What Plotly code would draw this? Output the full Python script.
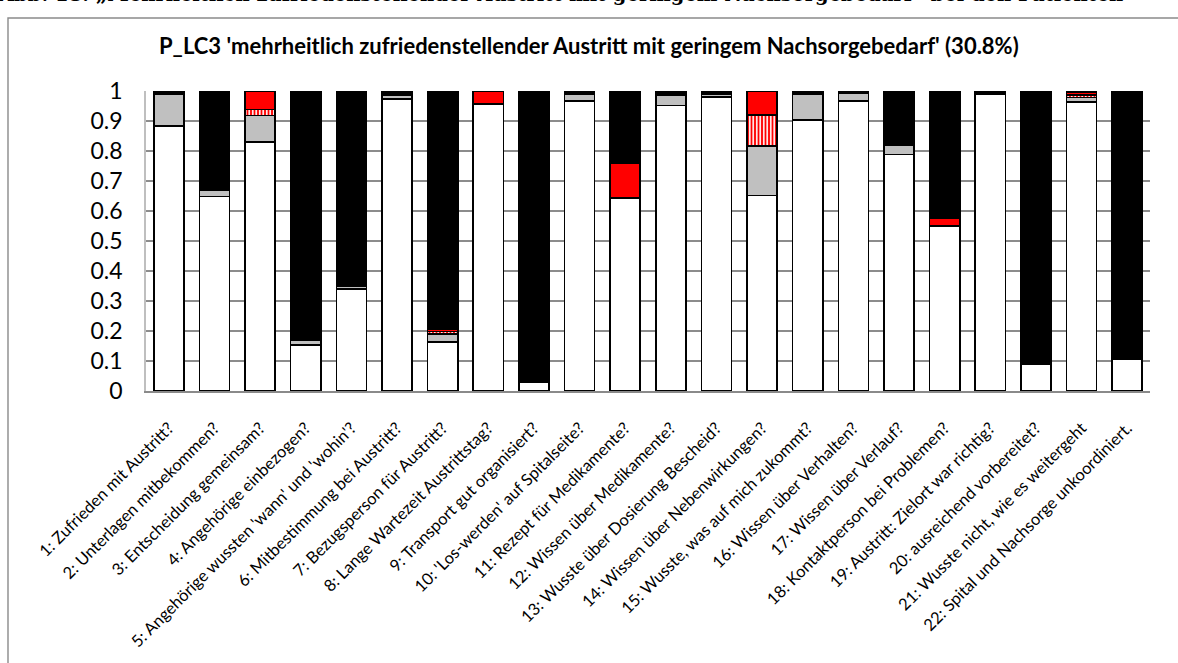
import plotly.graph_objects as go

# Survey items (x axis)
categories = [
    "1: Zufrieden mit Austritt?",
    "2: Unterlagen mitbekommen?",
    "3: Entscheidung gemeinsam?",
    "4: Angehörige einbezogen?",
    "5: Angehörige wussten 'wann' und 'wohin'?",
    "6: Mitbestimmung bei Austritt?",
    "7: Bezugsperson für Austritt?",
    "8: Lange Wartezeit Austrittstag?",
    "9: Transport gut organisiert?",
    "10: 'Los-werden' auf Spitalseite?",
    "11: Rezept für Medikamente?",
    "12: Wissen über Medikamente?",
    "13: Wusste über Dosierung Bescheid?",
    "14: Wissen über Nebenwirkungen?",
    "15: Wusste, was auf mich zukommt?",
    "16: Wissen über Verhalten?",
    "17: Wissen über Verlauf?",
    "18: Kontaktperson bei Problemen?",
    "19: Austritt: Zielort war richtig?",
    "20: ausreichend vorbereitet?",
    "21: Wusste nicht, wie es weitergeht",
    "22: Spital und Nachsorge unkoordiniert.",
]

# Stacked shares per item, bottom to top
share_white = [0.883, 0.648, 0.830, 0.154, 0.341, 0.974, 0.163, 0.956, 0.028, 0.967, 0.644,
               0.952, 0.980, 0.652, 0.904, 0.966, 0.788, 0.550, 0.989, 0.090, 0.963, 0.107]
share_grey = [0.108, 0.021, 0.089, 0.017, 0.008, 0.012, 0.028, 0.0, 0.0, 0.021, 0.0,
              0.033, 0.008, 0.164, 0.084, 0.028, 0.031, 0.0, 0.0, 0.0, 0.015, 0.0]
share_striped = [0.0, 0.0, 0.019, 0.0, 0.0, 0.0, 0.007, 0.0, 0.0, 0.004, 0.0,
                 0.006, 0.0, 0.105, 0.0, 0.0, 0.0, 0.0, 0.0, 0.0, 0.009, 0.0]
share_red = [0.0, 0.0, 0.062, 0.0, 0.0, 0.006, 0.007, 0.044, 0.0, 0.0, 0.114,
             0.004, 0.0, 0.079, 0.0, 0.0, 0.0, 0.027, 0.0, 0.0, 0.010, 0.0]
share_black = [0.009, 0.331, 0.000, 0.829, 0.651, 0.008, 0.795, 0.000, 0.972, 0.008, 0.242,
               0.005, 0.012, 0.000, 0.012, 0.006, 0.181, 0.423, 0.011, 0.910, 0.003, 0.893]

y_ticks = [0, 0.1, 0.2, 0.3, 0.4, 0.5, 0.6, 0.7, 0.8, 0.9, 1]
y_ticktext = ["0", "0.1", "0.2", "0.3", "0.4", "0.5", "0.6", "0.7", "0.8", "0.9", "1"]

title_text = "P_LC3 'mehrheitlich zufriedenstellender Austritt mit geringem Nachsorgebedarf' (30.8%)"
caption_text = "Abb. 18: \u201eMehrheitlich zufriedenstellender Austritt mit geringem Nachsorgebedarf\u201c bei den Patienten"

FONT = "Lato"
outline = dict(color="black", width=1.6)

fig = go.Figure()
fig.add_trace(go.Bar(x=categories, y=share_white, marker=dict(color="white", line=outline)))
fig.add_trace(go.Bar(x=categories, y=share_grey, marker=dict(color="#c0c0c0", line=outline)))
fig.add_trace(go.Bar(x=categories, y=share_striped,
                     marker=dict(color="#ff0000", line=outline,
                                 pattern=dict(shape="|", fgcolor="white", bgcolor="#ff0000",
                                              size=3.5, solidity=0.45, fillmode="replace"))))
fig.add_trace(go.Bar(x=categories, y=share_red, marker=dict(color="#ff0000", line=outline)))
fig.add_trace(go.Bar(x=categories, y=share_black, marker=dict(color="black", line=outline)))

# plot area in pixels: x 146..1150, y 91..391
L, R, T, B = 146, 28, 91, 272
W, H = 1178 - L - R, 663 - T - B

def px_x(px):
    return (px - L) / W

def px_y(py):
    return 1 - (py - T) / H

fig.update_layout(
    width=1178, height=663,
    margin=dict(l=L, r=R, t=T, b=B, autoexpand=False),
    barmode="stack", bargap=0.34,
    showlegend=False,
    paper_bgcolor="white", plot_bgcolor="white",
    font=dict(family=FONT, color="black"),
    shapes=[
        # outer chart frame (open to the right and bottom)
        dict(type="rect", xref="paper", yref="paper",
             x0=px_x(8), x1=px_x(1400), y0=px_y(800), y1=px_y(18),
             line=dict(color="#8a8a8a", width=1.4), layer="below"),
    ],
    annotations=[
        dict(text="<b>" + title_text + "</b>", xref="paper", yref="paper",
             x=px_x(589), y=px_y(45), xanchor="center", yanchor="middle",
             showarrow=False, font=dict(family=FONT, size=22, color="black")),
        dict(text="<b>" + caption_text + "</b>", xref="paper", yref="paper",
             x=px_x(-4), y=px_y(-6), xanchor="left", yanchor="middle",
             showarrow=False, font=dict(family="DejaVu Serif", size=19.5, color="black")),
    ],
)

fig.update_xaxes(
    type="category", range=[-0.5, 21.5], automargin=False,
    tickangle=-45, tickfont=dict(family=FONT, size=16.5),
    showline=True, linecolor="#8a8a8a", linewidth=2,
    showgrid=False, ticks="", ticklabelstandoff=19,
)
fig.update_yaxes(
    range=[0, 1], tickvals=y_ticks, ticktext=y_ticktext, automargin=False,
    tickfont=dict(family=FONT, size=23),
    showgrid=True, gridcolor="#8c8c8c", gridwidth=1.6,
    showline=True, linecolor="#bfbfbf", linewidth=1.5,
    zeroline=False, ticks="", ticklabelstandoff=17,
)

fig.write_html("out.html")
